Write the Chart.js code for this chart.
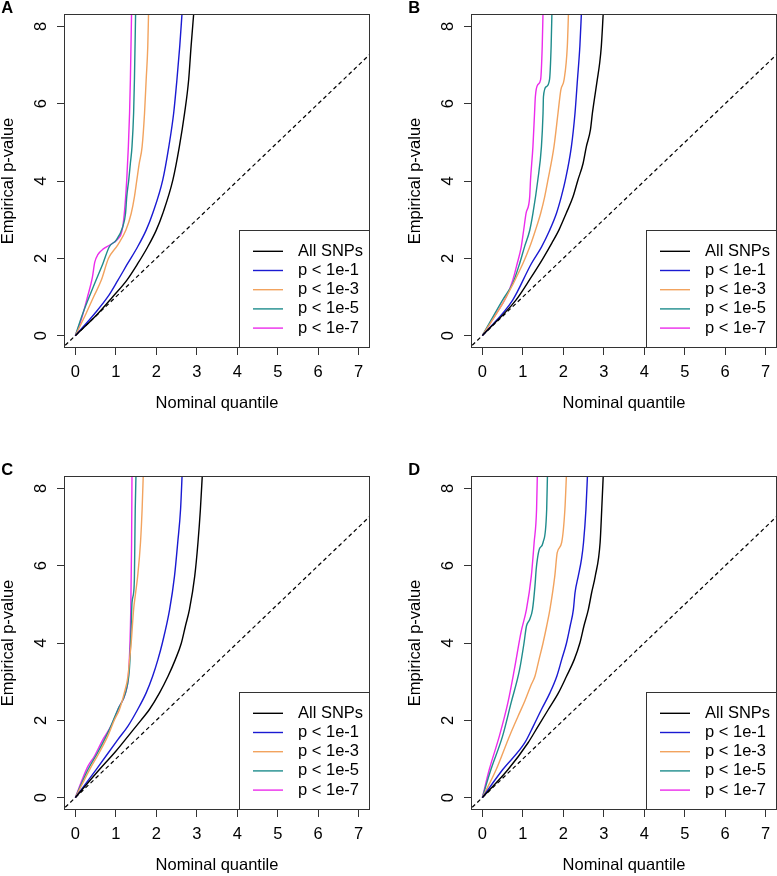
<!DOCTYPE html>
<html><head><meta charset="utf-8">
<script src="https://cdn.jsdelivr.net/npm/chart.js@4.4.1/dist/chart.umd.min.js"></script>
<style>
html,body{margin:0;padding:0;background:#fff;overflow:hidden;width:777px;height:876px;position:relative;}
canvas{position:absolute;}
</style></head><body>
<canvas id="cA" width="388" height="440" style="left:0px;top:0px"></canvas>
<canvas id="cB" width="388" height="440" style="left:407px;top:0px"></canvas>
<canvas id="cC" width="388" height="440" style="left:0px;top:462px"></canvas>
<canvas id="cD" width="388" height="440" style="left:407px;top:462px"></canvas>
<script>
// ---- labels, ticks, colours ----
const seriesLabels = ['All SNPs', 'p < 1e-1', 'p < 1e-3', 'p < 1e-5', 'p < 1e-7'];
const seriesColors = ['#000000', '#1a1ad2', '#f2a35e', '#1f8c8c', '#ec2cec'];
const xTicks = [0, 1, 2, 3, 4, 5, 6, 7];
const yTicks = [0, 2, 4, 6, 8];
const xTitle = 'Nominal quantile';
const yTitle = 'Empirical p-value';
const refLine = [[-1, -1], [9, 9]];

// ---- Panel A ----
const A_all = [[0,0],[0.55,0.56],[0.92,1.0],[1.27,1.43],[1.54,1.86],[1.79,2.30],[2.0,2.73],[2.16,3.16],[2.41,4.03],[2.57,4.89],[2.70,5.76],[2.80,6.62],[2.86,7.49],[2.93,8.4]];
const A_p1  = [[0,0],[0.47,0.56],[0.80,1.0],[1.05,1.43],[1.29,1.86],[1.54,2.30],[1.75,2.73],[1.91,3.16],[2.16,4.03],[2.31,4.89],[2.43,5.76],[2.51,6.62],[2.58,7.49],[2.64,8.4]];
const A_p3  = [[0,0],[0.26,0.56],[0.45,1.0],[0.64,1.43],[0.82,2.0],[1.05,2.35],[1.25,2.73],[1.38,3.16],[1.46,3.59],[1.52,4.03],[1.58,4.46],[1.65,4.89],[1.71,5.76],[1.75,6.62],[1.79,7.49],[1.81,8.4]];
const A_p5  = [[0,0],[0.18,0.56],[0.51,1.43],[0.68,1.86],[0.84,2.30],[1.01,2.47],[1.17,2.81],[1.24,3.16],[1.27,3.59],[1.32,4.03],[1.36,4.46],[1.40,4.89],[1.44,5.76],[1.46,6.62],[1.49,8.4]];
const A_p7  = [[0,0],[0.14,0.39],[0.30,1.0],[0.42,1.5],[0.48,1.9],[0.56,2.1],[0.70,2.25],[0.86,2.35],[1.05,2.5],[1.15,2.7],[1.21,3.16],[1.27,4.03],[1.31,4.89],[1.34,5.76],[1.36,6.62],[1.39,8.4]];

// ---- Panel B ----
const B_all = [[0,0],[0.83,0.92],[1.20,1.5],[1.50,2.0],[1.72,2.4],[1.90,2.75],[2.07,3.16],[2.24,3.59],[2.36,4.02],[2.49,4.46],[2.57,4.89],[2.67,5.32],[2.72,5.76],[2.84,6.62],[2.90,7.06],[2.94,7.49],[2.99,8.4]];
const B_p1  = [[0,0],[0.75,0.92],[1.21,1.86],[1.46,2.29],[1.66,2.72],[1.83,3.16],[1.95,3.59],[2.05,4.02],[2.20,4.89],[2.29,5.76],[2.35,6.62],[2.41,7.49],[2.45,8.4]];
const B_p3  = [[0,0],[0.55,0.92],[1.0,1.86],[1.17,2.29],[1.31,2.72],[1.44,3.16],[1.54,3.59],[1.62,4.02],[1.77,4.89],[1.87,5.76],[1.94,6.36],[2.02,6.62],[2.10,7.49],[2.13,8.4]];
const B_p5  = [[0,0],[0.50,0.92],[0.75,1.35],[0.92,1.86],[1.04,2.29],[1.17,2.72],[1.25,3.16],[1.37,4.02],[1.46,4.89],[1.50,5.76],[1.51,6.18],[1.58,6.44],[1.66,6.62],[1.70,7.49],[1.72,8.4]];
const B_p7  = [[0,0],[0.34,0.56],[0.59,1.0],[0.75,1.43],[0.86,1.86],[0.96,2.29],[1.02,2.72],[1.08,3.16],[1.17,3.59],[1.19,4.02],[1.25,4.89],[1.29,5.76],[1.31,6.18],[1.37,6.49],[1.44,6.62],[1.48,7.49],[1.50,8.4]];

// ---- Panel C ----
const C_all = [[0,0],[0.59,0.72],[1.0,1.2],[1.35,1.65],[1.62,2.0],[1.83,2.28],[2.08,2.71],[2.29,3.14],[2.47,3.57],[2.62,4.0],[2.72,4.44],[2.82,4.87],[2.95,5.73],[3.03,6.6],[3.09,7.46],[3.14,8.4]];
const C_p1  = [[0,0],[0.51,0.72],[1.05,1.5],[1.30,1.85],[1.54,2.28],[1.75,2.71],[1.91,3.14],[2.04,3.57],[2.15,4.0],[2.33,4.87],[2.45,5.73],[2.53,6.6],[2.60,7.46],[2.64,8.4]];
const C_p3  = [[0,0],[0.35,0.72],[0.59,1.16],[0.80,1.59],[0.97,2.02],[1.09,2.28],[1.21,2.71],[1.30,3.14],[1.34,3.57],[1.38,4.0],[1.44,4.87],[1.49,5.3],[1.54,5.73],[1.61,6.6],[1.65,7.46],[1.68,8.4]];
const C_p5  = [[0,0],[0.31,0.72],[0.55,1.16],[0.84,1.76],[1.05,2.28],[1.24,2.71],[1.32,3.14],[1.35,3.57],[1.38,4.44],[1.40,5.04],[1.44,5.3],[1.46,5.73],[1.47,6.6],[1.48,7.46],[1.50,8.4]];
const C_p7  = [[0,0],[0.17,0.47],[0.31,0.81],[0.47,1.07],[0.68,1.5],[0.88,1.85],[1.09,2.36],[1.24,2.71],[1.31,3.14],[1.35,4.0],[1.37,4.87],[1.39,6.6],[1.40,8.4]];

// ---- Panel D ----
const D_all = [[0,0],[0.63,0.72],[1.13,1.42],[1.38,1.85],[1.63,2.28],[1.88,2.71],[2.08,3.14],[2.27,3.57],[2.41,4.0],[2.51,4.44],[2.62,4.87],[2.70,5.3],[2.79,5.73],[2.91,6.6],[2.95,7.46],[2.99,8.4]];
const D_p1  = [[0,0],[0.50,0.72],[1.05,1.42],[1.26,1.85],[1.46,2.28],[1.67,2.71],[1.84,3.14],[1.96,3.57],[2.08,4.0],[2.17,4.44],[2.25,4.87],[2.29,5.3],[2.37,5.73],[2.45,6.17],[2.50,6.6],[2.56,7.46],[2.60,8.4]];
const D_p3  = [[0,0],[0.34,0.72],[0.67,1.59],[0.88,2.1],[1.05,2.5],[1.20,2.9],[1.30,3.14],[1.40,3.57],[1.50,4.0],[1.59,4.44],[1.67,4.87],[1.79,5.73],[1.85,6.34],[1.96,6.6],[2.04,7.46],[2.08,8.4]];
const D_p5  = [[0,0],[0.21,0.72],[0.50,1.59],[0.71,2.45],[0.92,3.31],[1.03,4.0],[1.09,4.44],[1.17,4.61],[1.24,4.87],[1.30,5.47],[1.33,5.9],[1.36,6.17],[1.41,6.43],[1.50,6.6],[1.59,7.46],[1.61,8.4]];
const D_p7  = [[0,0],[0.17,0.72],[0.42,1.59],[0.63,2.45],[0.79,3.31],[0.96,4.3],[1.09,4.87],[1.21,5.73],[1.28,6.6],[1.34,7.46],[1.36,8.4]];

const panels = [
  {id: 'cA', letter: 'A', series: [A_all, A_p1, A_p3, A_p5, A_p7]},
  {id: 'cB', letter: 'B', series: [B_all, B_p1, B_p3, B_p5, B_p7]},
  {id: 'cC', letter: 'C', series: [C_all, C_p1, C_p3, C_p5, C_p7]},
  {id: 'cD', letter: 'D', series: [D_all, D_p1, D_p3, D_p5, D_p7]}
];

const FONT = "'Liberation Sans', Arial, Helvetica, sans-serif";
const FS = 16.5;
const AXIS_COLOR = '#333333';

const toXY = arr => arr.map(p => ({x: p[0], y: p[1]}));

const rPlotPlugin = {
  id: 'rPlot',
  afterDraw(chart, args, opts) {
    const ctx = chart.ctx;
    const ca = chart.chartArea;
    ctx.save();
    // plot box
    ctx.strokeStyle = AXIS_COLOR;
    ctx.lineWidth = 1;
    ctx.strokeRect(ca.left + 0.5, ca.top + 0.5, ca.right - ca.left - 1, ca.bottom - ca.top - 1);
    // y tick labels (rotated, as in R)
    const ys = chart.scales.y;
    ctx.fillStyle = '#000';
    ctx.font = FS + 'px ' + FONT;
    ctx.textAlign = 'center';
    ctx.textBaseline = 'alphabetic';
    yTicks.forEach(v => {
      const py = ys.getPixelForValue(v);
      ctx.save();
      ctx.translate(ca.left - 18.3, py);
      ctx.rotate(-Math.PI / 2);
      ctx.fillText(String(v), 0, 0);
      ctx.restore();
    });
    // legend (bottom right, inside plot)
    const bw = 131, bh = 118;
    const bx = ca.right - bw, by = ca.bottom - bh;
    ctx.fillStyle = '#fff';
    ctx.fillRect(bx, by, bw, bh);
    ctx.strokeStyle = AXIS_COLOR;
    ctx.lineWidth = 1;
    ctx.strokeRect(Math.round(bx) + 0.5, Math.round(by) + 0.5, bw - 1, bh - 1);
    ctx.textAlign = 'left';
    ctx.textBaseline = 'middle';
    seriesLabels.forEach((lab, i) => {
      const yy = by + 21.3 + i * 19.2;
      ctx.strokeStyle = seriesColors[i];
      ctx.lineWidth = 1.4;
      ctx.beginPath();
      ctx.moveTo(bx + 14, yy);
      ctx.lineTo(bx + 44, yy);
      ctx.stroke();
      ctx.fillStyle = '#000';
      ctx.fillText(lab, bx + 59, yy);
    });
    // panel letter
    ctx.font = 'bold ' + FS + 'px ' + FONT;
    ctx.textAlign = 'left';
    ctx.textBaseline = 'alphabetic';
    ctx.fillStyle = '#000';
    ctx.fillText(opts.letter, 1.3, 13.2);
    ctx.restore();
  }
};

panels.forEach(p => {
  const datasets = p.series.map((s, i) => ({
    label: seriesLabels[i],
    data: toXY(s),
    borderColor: seriesColors[i],
    borderWidth: 1.4,
    pointRadius: 0,
    showLine: true,
    fill: false,
    cubicInterpolationMode: 'monotone'
  }));
  datasets.push({
    label: 'y = x',
    data: toXY(refLine),
    borderColor: '#000',
    borderWidth: 1.2,
    borderDash: [4, 3],
    pointRadius: 0,
    showLine: true,
    fill: false,
    tension: 0
  });
  new Chart(document.getElementById(p.id), {
    type: 'scatter',
    data: {datasets},
    plugins: [rPlotPlugin],
    options: {
      responsive: false,
      animation: false,
      devicePixelRatio: 1,
      layout: {padding: {left: 0, top: 14, right: 18, bottom: 0}},
      plugins: {
        legend: {display: false},
        tooltip: {enabled: false},
        rPlot: {letter: p.letter}
      },
      scales: {
        x: {
          type: 'linear',
          min: -0.28, max: 7.28,
          afterBuildTicks: s => { s.ticks = xTicks.map(v => ({value: v})); },
          afterFit: s => { s.height = 92; },
          ticks: {
            autoSkip: false, maxRotation: 0, minRotation: 0,
            padding: 8, color: '#000',
            font: {family: FONT, size: FS},
            callback: v => String(v)
          },
          grid: {drawOnChartArea: false, drawTicks: true, tickLength: 7, color: AXIS_COLOR, lineWidth: 1},
          border: {display: false},
          title: {display: true, text: xTitle, color: '#000', font: {family: FONT, size: FS}, padding: {top: 0, bottom: 26.3}}
        },
        y: {
          type: 'linear',
          min: -0.32, max: 8.32,
          afterBuildTicks: s => { s.ticks = yTicks.map(v => ({value: v})); },
          afterFit: s => { s.width = 64; },
          ticks: {display: false},
          grid: {drawOnChartArea: false, drawTicks: true, tickLength: 7, color: AXIS_COLOR, lineWidth: 1},
          border: {display: false},
          title: {display: true, text: yTitle, color: '#000', font: {family: FONT, size: FS}, padding: {top: -1.5, bottom: 0}}
        }
      }
    }
  });
});
</script>
</body></html>
